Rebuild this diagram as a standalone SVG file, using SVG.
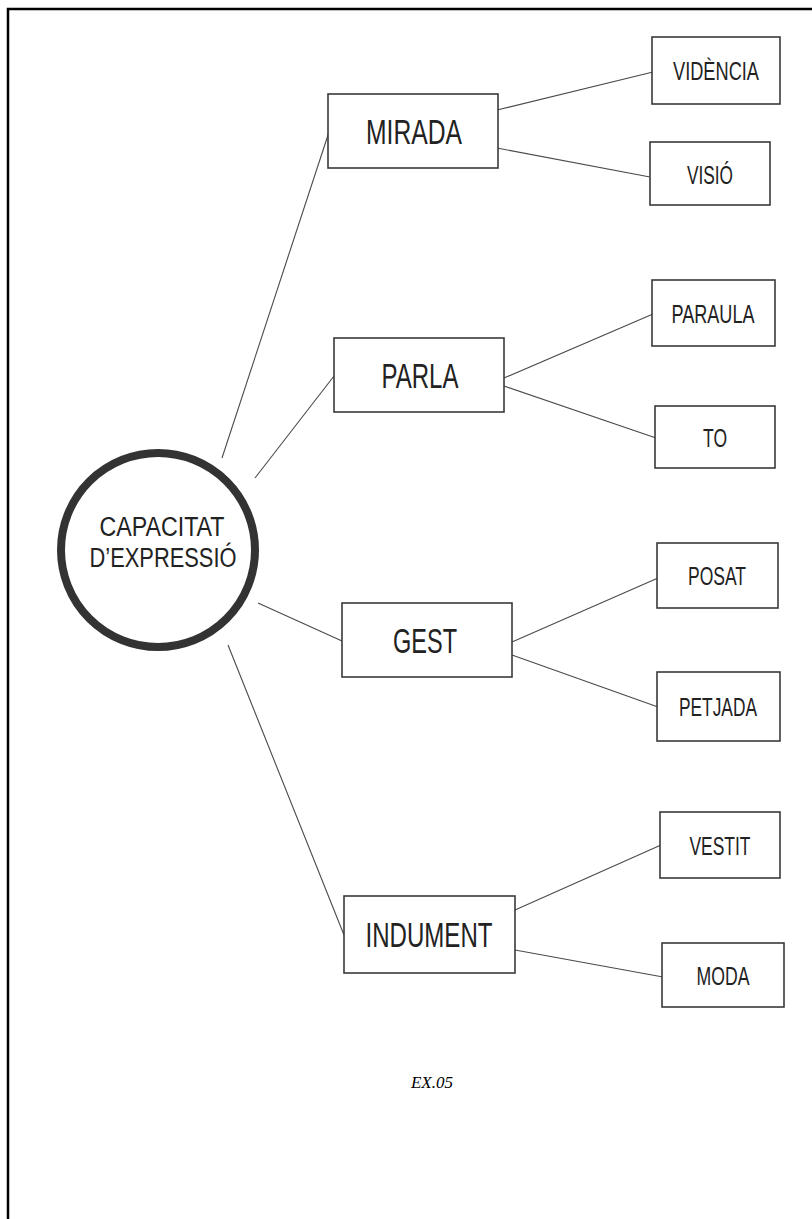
<svg xmlns="http://www.w3.org/2000/svg" width="812" height="1219" viewBox="0 0 812 1219">
<style>
.frame{fill:none;stroke:#000;stroke-width:2.5}
.box{fill:#fff;stroke:#3a3a3a;stroke-width:1.6}
.big{font-family:"Liberation Sans",Arial,sans-serif;font-size:35px;fill:#222;text-anchor:middle}
.small{font-family:"Liberation Sans",Arial,sans-serif;font-size:26px;fill:#222;text-anchor:middle}
.circ{font-family:"Liberation Sans",Arial,sans-serif;font-size:27px;fill:#222;text-anchor:middle}
.conn line{stroke:#4a4a4a;stroke-width:1.1}
</style>
<rect x="0" y="0" width="812" height="1219" fill="#fff"/>
<path class="frame" d="M8,1219 V9 H812"/>
<g id="connectors" class="conn">
<line x1="222" y1="458" x2="329" y2="132"/>
<line x1="255" y1="478" x2="334" y2="376"/>
<line x1="258" y1="603" x2="342" y2="641"/>
<line x1="228" y1="645" x2="344" y2="935"/>
<line x1="497" y1="110" x2="653" y2="72"/>
<line x1="497" y1="148" x2="650" y2="177"/>
<line x1="504" y1="378" x2="653" y2="314"/>
<line x1="504" y1="386" x2="656" y2="438"/>
<line x1="512" y1="642" x2="658" y2="578"/>
<line x1="512" y1="655" x2="658" y2="707"/>
<line x1="515" y1="910" x2="661" y2="845"/>
<line x1="515" y1="950" x2="663" y2="977"/>
</g>
<g id="center">
<circle cx="158" cy="550" r="97" fill="#fff" stroke="#333" stroke-width="8"/>
<text class="circ" x="162" y="536" textLength="125" lengthAdjust="spacingAndGlyphs">CAPACITAT</text>
<text class="circ" x="163" y="567" textLength="147" lengthAdjust="spacingAndGlyphs">D’EXPRESSIÓ</text>
</g>
<g id="mirada"><rect class="box" x="328" y="94" width="170" height="74"/><text class="big" x="414" y="144" textLength="96" lengthAdjust="spacingAndGlyphs">MIRADA</text></g>
<g id="parla"><rect class="box" x="334" y="338" width="170" height="74"/><text class="big" x="420" y="388" textLength="77" lengthAdjust="spacingAndGlyphs">PARLA</text></g>
<g id="gest"><rect class="box" x="342" y="603" width="170" height="74"/><text class="big" x="425" y="653" textLength="64" lengthAdjust="spacingAndGlyphs">GEST</text></g>
<g id="indument"><rect class="box" x="344" y="896" width="171" height="77"/><text class="big" x="429" y="947" textLength="127" lengthAdjust="spacingAndGlyphs">INDUMENT</text></g>
<g id="videncia"><rect class="box" x="652" y="37" width="128" height="67"/><text class="small" x="716" y="80" textLength="86" lengthAdjust="spacingAndGlyphs">VIDÈNCIA</text></g>
<g id="visio"><rect class="box" x="650" y="142" width="120" height="63"/><text class="small" x="710" y="184" textLength="46" lengthAdjust="spacingAndGlyphs">VISIÓ</text></g>
<g id="paraula"><rect class="box" x="652" y="280" width="123" height="66"/><text class="small" x="713" y="323" textLength="83" lengthAdjust="spacingAndGlyphs">PARAULA</text></g>
<g id="to"><rect class="box" x="655" y="406" width="120" height="62"/><text class="small" x="715" y="447" textLength="24" lengthAdjust="spacingAndGlyphs">TO</text></g>
<g id="posat"><rect class="box" x="657" y="543" width="121" height="65"/><text class="small" x="717" y="585" textLength="58" lengthAdjust="spacingAndGlyphs">POSAT</text></g>
<g id="petjada"><rect class="box" x="657" y="672" width="123" height="69"/><text class="small" x="718" y="716" textLength="78" lengthAdjust="spacingAndGlyphs">PETJADA</text></g>
<g id="vestit"><rect class="box" x="660" y="812" width="120" height="66"/><text class="small" x="720" y="855" textLength="61" lengthAdjust="spacingAndGlyphs">VESTIT</text></g>
<g id="moda"><rect class="box" x="662" y="943" width="122" height="64"/><text class="small" x="723" y="985" textLength="53" lengthAdjust="spacingAndGlyphs">MODA</text></g>
<text x="432" y="1088" font-family="'Liberation Serif',serif" font-style="italic" font-size="17" fill="#000" text-anchor="middle">EX.05</text>
</svg>
